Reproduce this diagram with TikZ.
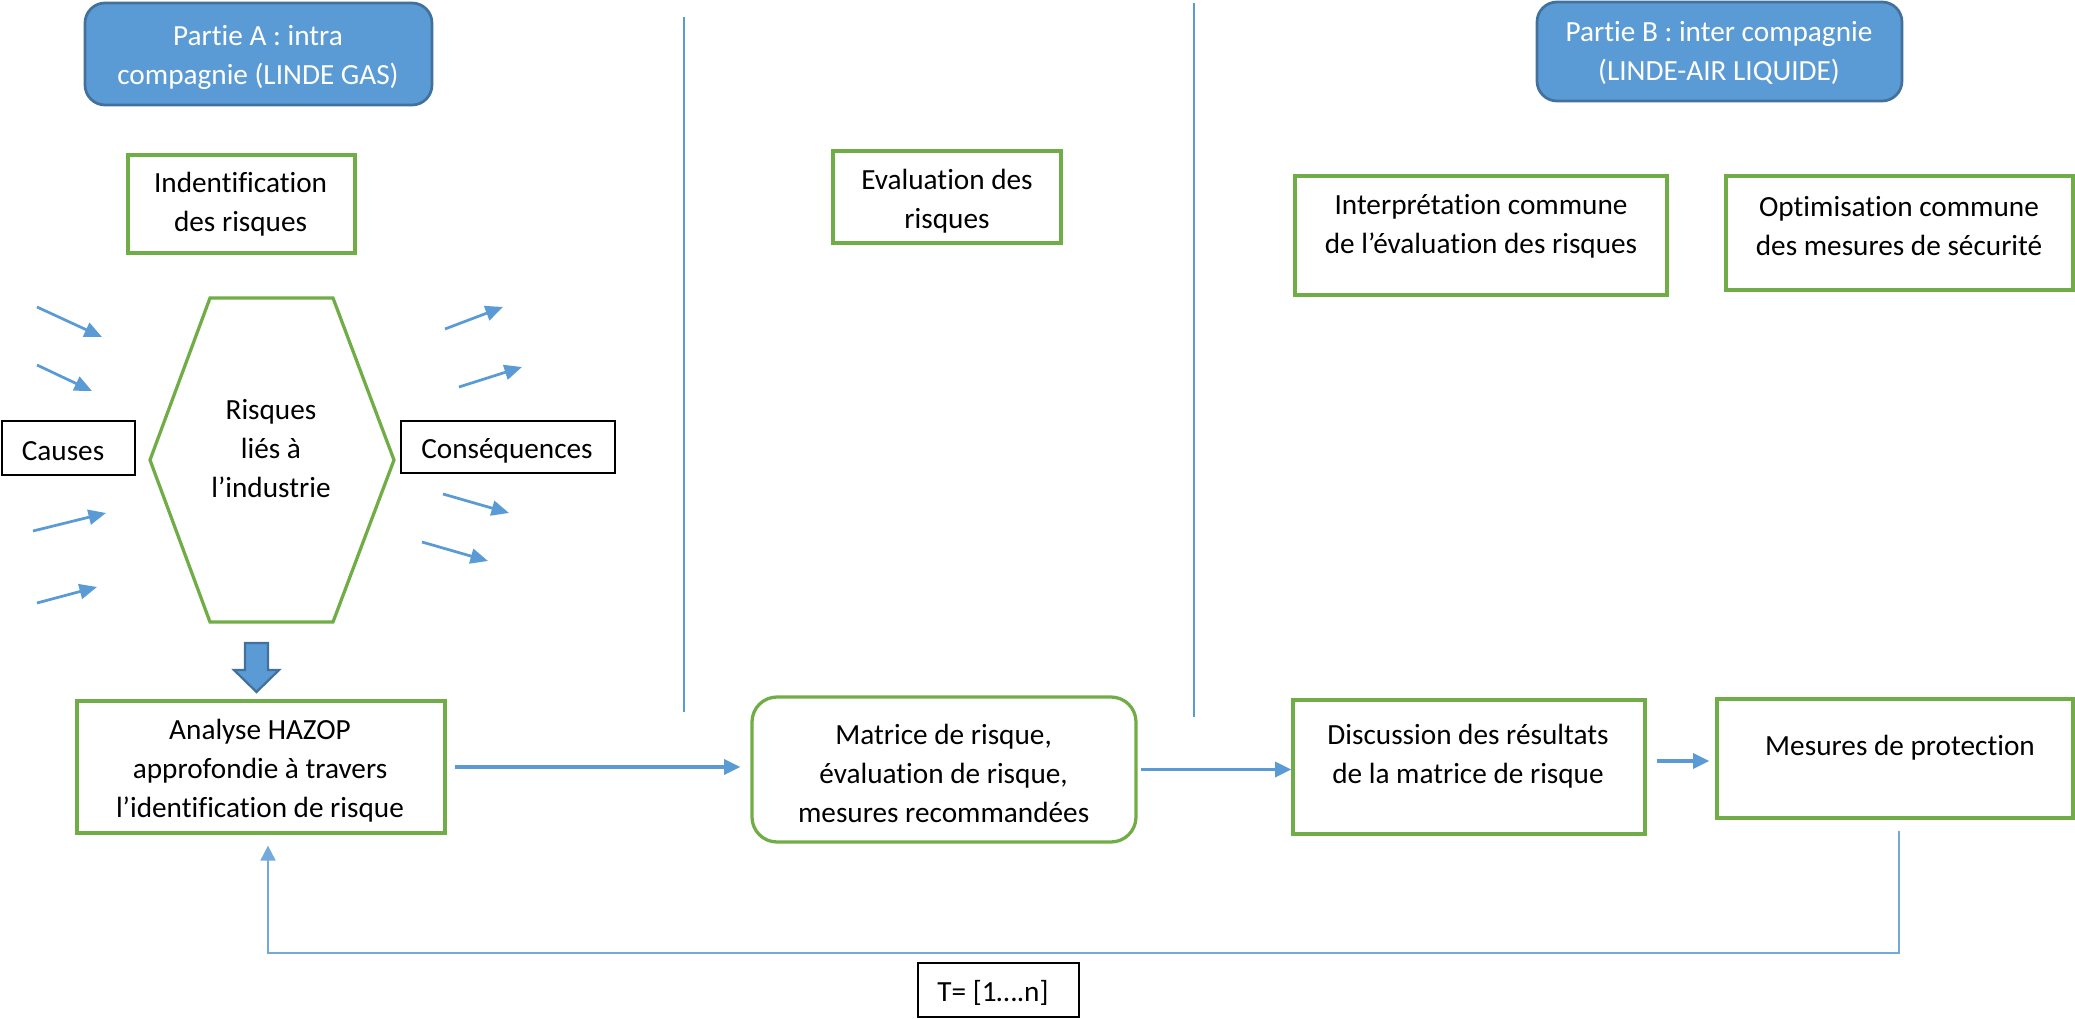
\documentclass[tikz,border=0pt]{standalone}
\usepackage{fontspec}
\setmainfont{Carlito}[Ligatures=NoCommon]
\usetikzlibrary{arrows.meta}
\definecolor{grn}{HTML}{70AD47}
\definecolor{bfill}{HTML}{5B9BD5}
\definecolor{bdark}{HTML}{41719C}
\definecolor{ablue}{HTML}{5B9BD5}
\begin{document}
\begin{tikzpicture}[x=0.4pt,y=-0.4pt,
 sz/.style 2 args={minimum width=#1*0.4pt, minimum height=#2*0.4pt},
 gbox/.style={draw=grn,line width=1.3pt,inner sep=0pt},
 kbox/.style={draw=black,line width=1.1pt,inner sep=0pt},
 titlebox/.style={draw=bdark,fill=bfill,line width=1.1pt,rounded corners=8pt,inner sep=0pt},
 txt/.style={align=center,inner sep=0pt,font=\fontsize{11.7pt}{15.6pt}\selectfont},
 arr/.style={draw=ablue,line width=1.4pt,-{Triangle[length=6.5pt,width=6pt]}},
 smallarr/.style={draw=ablue,line width=1.1pt,-{Triangle[length=7pt,width=6pt]}},
 sepline/.style={draw=ablue,line width=0.6pt},
 fbline/.style={draw=ablue!85,line width=0.8pt}]
\useasboundingbox (0,0) rectangle (2075,1019);

% title boxes
\node[titlebox, sz={347}{102}] (pa) at (258.5,54) {};
\node[txt, text=white] (paT) at (258,57.5) {Partie A : intra\\compagnie (LINDE GAS)};
\node[titlebox, sz={365}{99}] (pb) at (1719.5,51.5) {};
\node[txt, text=white] (pbT) at (1719,52.5) {Partie B : inter compagnie\\(LINDE-AIR LIQUIDE)};

% upper boxes
\node[gbox, sz={227}{98}] (ident) at (241.5,204) {};
\node[txt] (identT) at (240.6,204.5) {Indentification\\des risques};
\node[gbox, sz={228}{92}] (eval) at (947,197) {};
\node[txt] (evalT) at (947,201) {Evaluation des\\risques};
\node[gbox, sz={372}{119}] (interp) at (1481,235.5) {};
\node[txt] (interpT) at (1481,226) {Interprétation commune\\de l’évaluation des risques};
\node[gbox, sz={347}{114}] (optim) at (1899.5,233) {};
\node[txt] (optimT) at (1899,226) {Optimisation commune\\des mesures de sécurité};

% causes / consequences
\node[kbox, sz={133}{54}] (causes) at (68.5,448) {};
\node[txt] (causesT) at (63,451) {Causes};
\node[kbox, sz={214}{52}] (cons) at (508,447) {};
\node[txt] (consT) at (507,451) {Conséquences};

% hexagon
\coordinate (h1) at (210,298);
\coordinate (h2) at (333,298);
\coordinate (h3) at (394,460);
\coordinate (h4) at (333,622);
\coordinate (h5) at (210,622);
\coordinate (h6) at (150,460);
\draw[draw=grn,line width=1.3pt] (h1)--(h2)--(h3)--(h4)--(h5)--(h6)--cycle;
\node[txt] (risk) at (271,448.5) {Risques\\liés à\\l’industrie};

% small arrows
\draw[smallarr] (37,307) -- (102,337);
\draw[smallarr] (37,365) -- (92,391);
\draw[smallarr] (33,531) -- (106,513);
\draw[smallarr] (37,603) -- (97,587);
\draw[smallarr] (445,329) -- (503,307);
\draw[smallarr] (459,387) -- (522,367);
\draw[smallarr] (443,494) -- (509,513);
\draw[smallarr] (422,542) -- (488,561);

% block arrow
\draw[draw=bdark, fill=bfill, line width=0.9pt] (245,643)--(268,643)--(268,670)--(279,670)--(256.5,692)--(234,670)--(245,670)--cycle;

% separators
\coordinate (s1a) at (684,17); \coordinate (s1b) at (684,712);
\coordinate (s2a) at (1194,3); \coordinate (s2b) at (1194,717);
\draw[sepline] (s1a)--(s1b);
\draw[sepline] (s2a)--(s2b);

% lower row
\node[gbox, sz={368}{132}] (hazop) at (261,767) {};
\node[txt] (hazopT) at (260,771) {Analyse HAZOP\\approfondie à travers\\l’identification de risque};
\node[gbox, rounded corners=10pt, sz={384}{145}] (mat) at (944,769.5) {};
\node[txt] (matT) at (943.6,773.5) {Matrice de risque,\\évaluation de risque,\\mesures recommandées};
\node[gbox, sz={352}{134}] (disc) at (1469,767) {};
\node[txt] (discT) at (1468,756.5) {Discussion des résultats\\de la matrice de risque};
\node[gbox, sz={356}{119}] (mes) at (1895,758.5) {};
\node[txt] (mesT) at (1900,748) {Mesures de protection};
\node[kbox, sz={161}{54}] (tbox) at (998.5,990) {};
\node[txt] (tT) at (993,993) {T= [1….n]};

% connectors
\draw[arr, shorten <=3.2pt, shorten >=4pt] (hazop.east) -- (hazop.east -| mat.west);
\draw[arr, shorten <=1.2pt] (mat.east) -- (mat.east -| disc.west);
\coordinate (dm1) at ([yshift=2.4pt]disc.east);
\draw[arr, shorten <=4pt, shorten >=2.4pt] (dm1) -- (dm1 -| mes.west);

% feedback loop
\coordinate (fbR) at (1899,953);
\coordinate (fbL) at (268,953);
\draw[fbline, -{Triangle[length=6pt,width=6pt]}, shorten <=4.4pt, shorten >=4.4pt] (fbR |- mes.south) -- (fbR) -- (fbL) -- (fbL |- hazop.south);
\end{tikzpicture}
\end{document}
